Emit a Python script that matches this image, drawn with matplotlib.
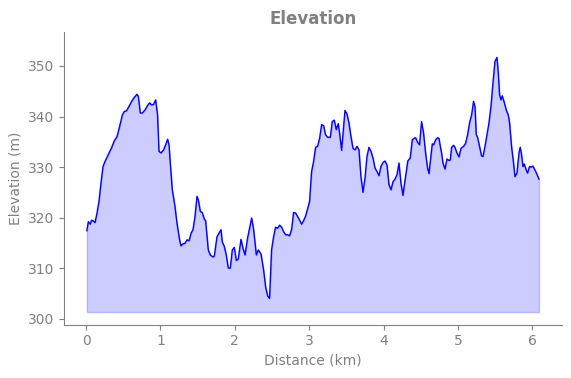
import numpy as np
import matplotlib
matplotlib.use('Agg')
import matplotlib.pyplot as plt

# distance along the track (km) and elevation (m)
distance_km = [
    0.01, 0.030, 0.056, 0.074, 0.101, 0.120, 0.147, 0.173, 0.200, 0.227,
    0.254, 0.289, 0.325, 0.339, 0.379, 0.415, 0.450, 0.487, 0.514, 0.541,
    0.577, 0.612, 0.648, 0.684, 0.702, 0.729, 0.756, 0.792, 0.827, 0.854,
    0.881, 0.908, 0.935, 0.961, 0.980, 1.007, 1.042, 1.069, 1.096, 1.115,
    1.132, 1.159, 1.195, 1.222, 1.257, 1.276, 1.303, 1.330, 1.357, 1.384,
    1.411, 1.437, 1.464, 1.491, 1.509, 1.536, 1.562, 1.589, 1.607, 1.643,
    1.670, 1.706, 1.724, 1.760, 1.787, 1.814, 1.831, 1.858, 1.885, 1.912,
    1.939, 1.966, 1.993, 2.020, 2.046, 2.083, 2.110, 2.137, 2.172, 2.199,
    2.226, 2.253, 2.289, 2.315, 2.352, 2.387, 2.414, 2.441, 2.467, 2.494,
    2.521, 2.548, 2.575, 2.602, 2.629, 2.656, 2.683, 2.709, 2.736, 2.763,
    2.790, 2.817, 2.844, 2.871, 2.898, 2.925, 2.951, 2.978, 3.005, 3.032,
    3.059, 3.086, 3.113, 3.140, 3.167, 3.194, 3.220, 3.247, 3.284, 3.310,
    3.337, 3.364, 3.391, 3.409, 3.436, 3.481, 3.508, 3.535, 3.562, 3.589,
    3.616, 3.643, 3.669, 3.696, 3.723, 3.750, 3.777, 3.804, 3.831, 3.858,
    3.885, 3.912, 3.938, 3.965, 3.992, 4.019, 4.046, 4.073, 4.100, 4.127,
    4.154, 4.181, 4.207, 4.234, 4.261, 4.288, 4.326, 4.359, 4.386, 4.413,
    4.431, 4.458, 4.484, 4.511, 4.538, 4.565, 4.592, 4.611, 4.638, 4.655,
    4.673, 4.700, 4.727, 4.745, 4.763, 4.780, 4.799, 4.826, 4.853, 4.880,
    4.897, 4.915, 4.942, 4.960, 4.987, 5.014, 5.041, 5.076, 5.103, 5.130,
    5.157, 5.184, 5.210, 5.229, 5.247, 5.264, 5.291, 5.318, 5.337, 5.364,
    5.391, 5.417, 5.444, 5.471, 5.498, 5.525, 5.543, 5.560, 5.579, 5.596,
    5.623, 5.650, 5.677, 5.695, 5.721, 5.748, 5.767, 5.794, 5.821, 5.838,
    5.856, 5.875, 5.892, 5.919, 5.936, 5.963, 5.990, 6.009, 6.036, 6.053,
    6.090,
]
elevation_m = [
    317.4, 319.2, 318.7, 319.5, 319.3, 319.0, 320.9, 323.2, 326.8, 330.1,
    331.1, 332.2, 333.3, 333.7, 335.2, 336.0, 338.0, 340.3, 341.0, 341.1,
    342.0, 343.0, 343.8, 344.4, 344.0, 340.7, 340.7, 341.3, 342.2, 342.7,
    342.3, 342.4, 343.3, 340.3, 333.1, 332.8, 333.4, 334.4, 335.5, 334.4,
    330.8, 325.5, 322.2, 318.9, 315.6, 314.4, 314.8, 314.9, 315.6, 315.4,
    316.9, 317.6, 320.2, 324.2, 323.5, 321.2, 321.0, 319.7, 319.4, 313.6,
    312.6, 312.2, 312.4, 316.2, 316.9, 317.6, 315.2, 314.3, 312.6, 310.0,
    310.0, 313.6, 314.1, 311.5, 311.8, 315.7, 313.9, 312.6, 316.0, 317.9,
    319.9, 317.6, 312.6, 313.6, 312.8, 309.6, 306.3, 304.5, 304.0, 313.6,
    316.2, 318.1, 317.9, 318.5, 318.1, 317.2, 316.6, 316.6, 316.4, 317.6,
    321.0, 320.9, 320.2, 319.5, 318.7, 319.4, 320.3, 321.7, 323.2, 329.1,
    331.1, 333.9, 334.1, 335.7, 338.4, 338.2, 336.4, 335.9, 335.9, 339.0,
    339.3, 337.4, 338.6, 336.7, 333.3, 341.2, 340.5, 338.7, 336.0, 333.7,
    333.4, 334.1, 333.4, 328.1, 325.0, 327.8, 332.1, 333.9, 333.1, 331.8,
    329.8, 329.1, 328.3, 330.1, 330.9, 331.2, 330.4, 326.5, 325.5, 327.1,
    327.6, 328.5, 330.8, 326.8, 324.4, 327.3, 331.2, 331.8, 335.4, 335.7,
    335.8, 334.9, 334.4, 339.0, 336.7, 332.8, 329.8, 328.7, 332.4, 334.6,
    334.4, 335.4, 335.8, 335.7, 334.1, 332.8, 330.8, 329.6, 331.6, 331.3,
    331.4, 333.9, 334.3, 333.9, 332.8, 332.0, 333.7, 334.1, 334.7, 336.4,
    338.8, 340.3, 343.0, 342.0, 336.4, 335.9, 334.1, 332.2, 332.1, 334.1,
    336.4, 338.7, 342.0, 346.6, 350.9, 351.7, 348.6, 344.3, 343.3, 344.1,
    342.8, 341.3, 340.3, 338.7, 334.1, 330.8, 328.1, 328.8, 332.8, 333.9,
    332.4, 330.1, 330.6, 329.4, 328.8, 330.1, 330.0, 330.2, 329.4, 328.9,
    327.6,
]

x = np.array(distance_km)
y = np.array(elevation_m)
base = y.min() - 2.7

fig, ax = plt.subplots(figsize=(5.71, 3.78), dpi=100)
ax.plot(x, y, color='blue', linewidth=1)
ax.fill_between(x, y, base, color='blue', alpha=0.2)
ax.set_ylim(y.min() - 5.2, y.max() + 5)

ax.set_title('Elevation', color='gray', fontweight='bold', fontsize=12)
ax.set_xlabel('Distance (km)', color='gray')
ax.set_ylabel('Elevation (m)', color='gray')
ax.tick_params(colors='gray')
for side in ['top', 'right']:
    ax.spines[side].set_visible(False)
for side in ['left', 'bottom']:
    ax.spines[side].set_color('gray')

fig.subplots_adjust(left=0.1125, right=0.9835, bottom=0.141, top=0.915)
plt.savefig('out.png')
